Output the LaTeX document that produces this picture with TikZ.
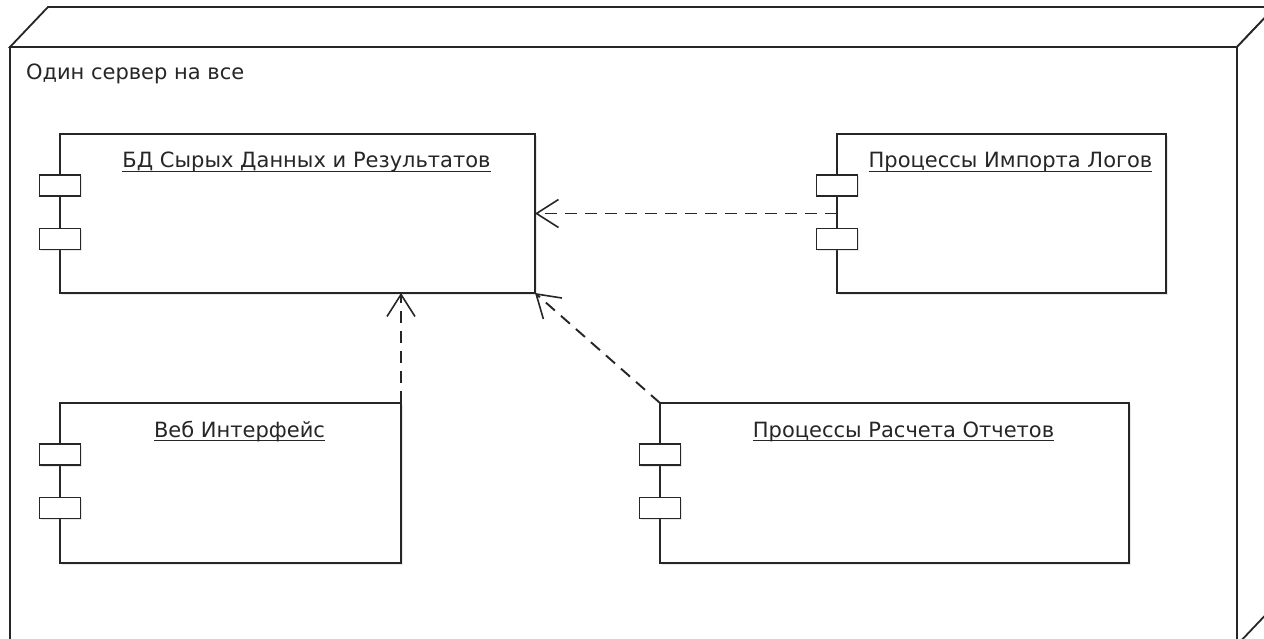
\documentclass[tikz,border=0pt]{standalone}
\usepackage{fontspec}
\setmainfont{DejaVu Sans}
\usetikzlibrary{arrows.meta,shadows}
\definecolor{ink}{HTML}{262626}
\tikzset{
  frame/.style={draw=ink, line width=1.8pt, line join=miter},
  comp/.style={frame, fill=white, rectangle, inner sep=0pt, outer sep=0pt,
    drop shadow={opacity=0.18, shadow xshift=2pt, shadow yshift=-2pt}},
  port/.style={frame, fill=white, rectangle, inner sep=0pt, outer sep=0pt,
    minimum width=41pt, minimum height=21pt,
    drop shadow={opacity=0.18, shadow xshift=1.5pt, shadow yshift=-1.5pt}},
  title/.style={inner sep=0pt, outer sep=0pt, anchor=base,
    font=\fontsize{21}{25}\selectfont, text=ink},
  uline/.style={draw=ink, line width=1.6pt},
  dep/.style={draw=ink, line width=1.9pt, dash pattern=on 12pt off 8pt,
    -{Straight Barb[length=22pt, width=28pt, line width=1.6pt]}},
}
% #1 name, #2 left, #3 top, #4 right, #5 bottom, #6 title
\newcommand{\umlcomponent}[6]{%
  \node[comp, minimum width={(#4)-(#2)}, minimum height={(#5)-(#3)}]
    (#1) at ({((#2)+(#4))/2}, {((#3)+(#5))/2}) {};
  \node[port] (#1p1) at (#2, {(#3)+51.5}) {};
  \node[port] (#1p2) at (#2, {(#3)+105}) {};
  \node[title] (#1t) at ({((#2)+(#4))/2+9}, {(#3)+34}) {#6};
  \draw[uline] ([yshift=-3.5pt]#1t.base west) -- ([yshift=-3.5pt]#1t.base east);
}
\begin{document}
\begin{tikzpicture}[x=1pt, y=-1pt]
  \useasboundingbox (0,0) rectangle (1264,639);
  \clip (0,0) rectangle (1264,639);

  % server node: front face, top face and right face
  \draw[frame, fill=white] (10,47) -- (48,7) -- (1275,7) -- (1237,47) -- cycle;
  \draw[frame, fill=white] (1237,47) -- (1275,7) -- (1275,605) -- (1237,645) -- cycle;
  \draw[frame, fill=white] (10,47) rectangle (1237,645);
  \node[title, anchor=base west] (srv) at (26,80) {Один сервер на все};

  % components
  \umlcomponent{db}{60}{134}{535}{293}{БД Сырых Данных и Результатов}
  \umlcomponent{imp}{837}{134}{1166}{293}{Процессы Импорта Логов}
  \umlcomponent{web}{60}{403}{401}{563}{Веб Интерфейс}
  \umlcomponent{rep}{660}{403}{1129}{563}{Процессы Расчета Отчетов}

  % dependencies
  \draw[dep] (imp.west) -- (db.east);
  \draw[dep] (web.north east) -- (web.north east |- db.south);
  \draw[dep] (rep.north west) -- (db.south east);
\end{tikzpicture}
\end{document}
